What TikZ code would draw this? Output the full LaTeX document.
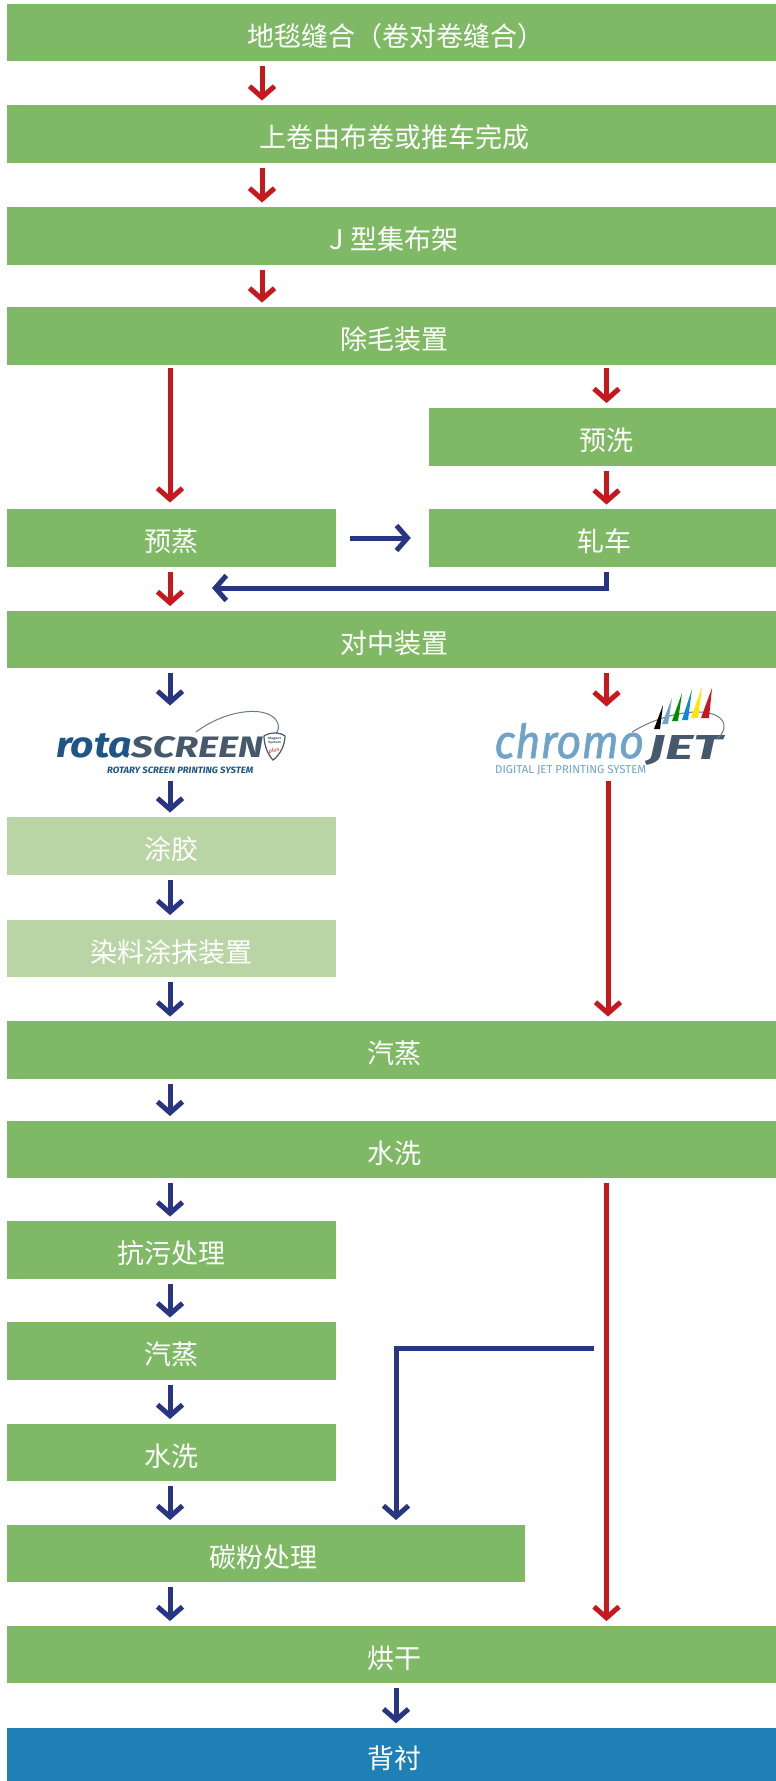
\documentclass[tikz,border=0pt]{standalone}
\usepackage{fontspec}
\setmainfont{Noto Sans CJK SC}
\newfontfamily\logofont{Fira Sans}
\newfontfamily\chromofont[ItalicFeatures={FakeBold=1.2}]{Fira Sans}
\usetikzlibrary{arrows.meta,calc}
\definecolor{boxgreen}{HTML}{80B966}
\definecolor{palegreen}{HTML}{B9D5A5}
\definecolor{boxblue}{HTML}{1F80B6}
\definecolor{arrred}{HTML}{C6181D}
\definecolor{arrblue}{HTML}{283583}
\definecolor{logoblue}{HTML}{1C5586}
\definecolor{logogrey}{HTML}{46586B}
\definecolor{logosky}{HTML}{6FA3C9}
\tikzset{
  x=1pt,y=-1pt,
  flowbox/.style={rectangle,fill=boxgreen,text=white,inner sep=0pt,minimum height=57.5pt,text height=27pt,text depth=0pt,font=\fontsize{27}{30}\selectfont},
  full/.style={minimum width=769pt,execute at begin node={\hspace*{5pt}}},
  half/.style={minimum width=329pt},
  rhalf/.style={minimum width=347pt},
  pale/.style={fill=palegreen},
  conn/.style={line width=5pt,shorten <=5pt,shorten >=4.5pt,-{Straight Barb[length=11pt,width=25pt,line width=5pt]}},
  redconn/.style={conn,draw=arrred},
  blueconn/.style={conn,draw=arrblue},
  logotext/.style={inner sep=0pt,anchor=base west,font=\logofont\bfseries\itshape},
}
\begin{document}
\begin{tikzpicture}
\useasboundingbox[fill=white] (0,0) rectangle (776,1781);
% boxes
\node[flowbox,full] (seam) at (391.5,32.5) {\hspace*{4pt}地毯缝合（卷对卷缝合）};
\node[flowbox,full] (load) at (391.5,134) {上卷由布卷或推车完成};
\node[flowbox,full] (jbox) at (391.5,236) {J 型集布架};
\node[flowbox,full] (crop) at (391.5,336) {除毛装置};
\node[flowbox,rhalf] (prewash) at (602.5,437) {\hspace*{7pt}预洗};
\node[flowbox,half] (presteam) at (171.5,538) {预蒸};
\node[flowbox,rhalf] (padder) at (602.5,538) {\hspace*{3pt}轧车};
\node[flowbox,full] (center) at (391.5,639.5) {对中装置};
\node[flowbox,half,pale] (glue) at (171.5,846) {涂胶};
\node[flowbox,half,pale] (dye) at (171.5,948.5) {染料涂抹装置};
\node[flowbox,full] (steam) at (391.5,1050) {汽蒸};
\node[flowbox,full] (wash) at (391.5,1149.5) {水洗};
\node[flowbox,half] (stain) at (171.5,1250) {抗污处理};
\node[flowbox,half] (steamb) at (171.5,1351) {汽蒸};
\node[flowbox,half] (washb) at (171.5,1452.5) {水洗};
\node[flowbox,minimum width=518pt] (carbon) at (266,1553.5) {碳粉处理\hspace*{6pt}};
\node[flowbox,full] (dry) at (391.5,1654.5) {烘干};
\node[flowbox,full,fill=boxblue,minimum height=53pt] (back) at (391.5,1754.5) {背衬};
% logo rotaSCREEN
\node[logotext,text=logoblue] (rotaa) at (56,757) {\resizebox{76pt}{24pt}{rota}};
\node[logotext,text=logogrey] (rotab) at (131,757) {\resizebox{132pt}{21pt}{SCREEN}};
\node[logotext,text=logoblue] (rotac) at (107,773) {\resizebox{146pt}{6.5pt}{ROTARY SCREEN PRINTING SYSTEM}};
\draw[logogrey!80,line width=1pt] (196,732) .. controls (225,710) and (265,705) .. (276,720) .. controls (280,726) and (279,730) .. (275,735);
\draw[logogrey,line width=1.2pt,fill=white] (264,736) .. controls (270,732) and (280,732) .. (285,736) .. controls (285,745) and (280,755) .. (273,760) .. controls (268,755) and (264,745) .. (264,736) -- cycle;
\node[inner sep=0pt,text=logogrey,font=\logofont\bfseries] (rotad) at (274.5,741) {\resizebox{13pt}{6pt}{\shortstack{Magnet\\System}}};
\node[inner sep=0pt,text=arrred,font=\logofont\itshape,rotate=15] (rotae) at (274,751) {\resizebox{11pt}{4pt}{plus}};
% logo chromoJET
\node[logotext,text=logosky,font=\chromofont\mdseries\itshape] (chra) at (494,758) {\resizebox{150pt}{35pt}{chromo}};
\node[logotext,text=logogrey] (chrb) at (648,759) {\resizebox{74pt}{24pt}{JET}};
\node[logotext,text=logosky,font=\logofont\mdseries] (chrc) at (495,773) {\resizebox{151pt}{8pt}{DIGITAL JET PRINTING SYSTEM}};
\draw[logogrey!80,line width=1pt] (632,732) .. controls (655,718) and (680,712) .. (697,712) .. controls (715,712) and (725,718) .. (724,728) .. controls (723,733) and (720,737) .. (716,739);
\fill[black] (663,705) -- (660,729) -- (654,729) -- cycle;
\fill[logosky] (672,698) -- (668,724) -- (662,724) -- cycle;
\fill[green!55!black] (682,693) -- (678,721) -- (672,721) -- cycle;
\fill[cyan!70!blue] (692,689) -- (688,720) -- (682,720) -- cycle;
\fill[yellow!90!orange] (702,687) -- (698,718) -- (691,718) -- cycle;
\fill[arrred] (712,688) -- (709,718) -- (701,718) -- cycle;
% free ends
\coordinate (colA) at (170,0);
\coordinate (colB) at (606.5,0);
\coordinate (colC) at (262,0);
\coordinate (colD) at (396,0);
\coordinate (colE) at (608,0);
\coordinate (rotatop) at (170,710);
\coordinate (rotabot) at (170,776);
\coordinate (chrtop) at (606.5,711);
\coordinate (chrbot) at (608,776);
\coordinate (merge) at (212,588);
\coordinate (branch) at (594,1348);
% connectors
\draw[redconn] (seam.south -| colC) -- (load.north -| colC);
\draw[redconn] (load.south -| colC) -- (jbox.north -| colC);
\draw[redconn] (jbox.south -| colC) -- (crop.north -| colC);
\draw[redconn,shorten <=3pt,shorten >=6.5pt] (crop.south -| colA) -- (presteam.north -| colA);
\draw[redconn,shorten <=3pt,shorten >=5pt] (crop.south -| colB) -- (prewash.north -| colB);
\draw[redconn] (prewash.south -| colB) -- (padder.north -| colB);
\draw[blueconn,shorten <=14pt,shorten >=18pt] (presteam.east) -- (padder.west);
\draw[redconn] (presteam.south -| colA) -- (center.north -| colA);
\draw[blueconn,shorten >=0pt] (padder.south -| colB) |- (merge);
\draw[blueconn] (center.south -| colA) -- (rotatop);
\draw[redconn] (center.south -| colB) -- (chrtop);
\draw[blueconn] (rotabot) -- (glue.north -| colA);
\draw[redconn] (chrbot) -- (steam.north -| colE);
\draw[blueconn] (glue.south -| colA) -- (dye.north -| colA);
\draw[blueconn] (dye.south -| colA) -- (steam.north -| colA);
\draw[blueconn] (steam.south -| colA) -- (wash.north -| colA);
\draw[blueconn] (wash.south -| colA) -- (stain.north -| colA);
\draw[blueconn] (stain.south -| colA) -- (steamb.north -| colA);
\draw[blueconn] (steamb.south -| colA) -- (washb.north -| colA);
\draw[blueconn] (washb.south -| colA) -- (carbon.north -| colA);
\draw[blueconn] (carbon.south -| colA) -- (dry.north -| colA);
\draw[redconn] (wash.south -| colB) -- (dry.north -| colB);
\draw[blueconn,line join=miter,shorten <=0pt] (branch) -| (carbon.north -| colD);
\draw[blueconn] (dry.south -| colD) -- (back.north -| colD);
\end{tikzpicture}
\end{document}
